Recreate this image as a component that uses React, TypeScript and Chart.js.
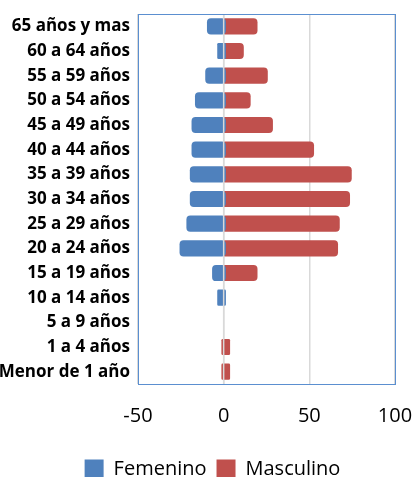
import React, { useEffect, useRef } from "react";
import { Chart, registerables } from "chart.js";

Chart.register(...registerables);

const categories = [
  "65 años y mas",
  "60 a 64 años",
  "55 a 59 años",
  "50 a 54 años",
  "45 a 49 años",
  "40 a 44 años",
  "35 a 39 años",
  "30 a 34 años",
  "25 a 29 años",
  "20 a 24 años",
  "15 a 19 años",
  "10 a 14 años",
  "5 a 9 años",
  "1 a 4 años",
  "Menor de 1 año",
];

const femenino = [-8, -2, -9, -15, -17, -17, -18, -18, -20, -24, -5, -2, 0, 0, 0];
const masculino = [18, 10, 24, 14, 27, 51, 73, 72, 66, 65, 18, 0, 0, 2, 2];

const xTicks = [-50, 0, 50, 100];

const BLUE = "#4F81BD";
const RED = "#C0504D";
const CLEAR = "rgba(0,0,0,0)";

const frame = {
  id: "frame",
  afterLayout(chart: any) {
    const lg = chart.legend;
    if (lg) {
      lg.left += 15;
      lg.right += 15;
    }
  },
  afterDatasetsDraw(chart: any) {
    const { ctx, chartArea, scales } = chart;
    const x0 = scales.x.getPixelForValue(0);
    ctx.save();
    ctx.strokeStyle = "#d9d9d9";
    ctx.lineWidth = 1.5;
    ctx.beginPath();
    ctx.moveTo(x0, chartArea.top);
    ctx.lineTo(x0, chartArea.bottom);
    ctx.stroke();
    ctx.strokeStyle = "#5B8FD0";
    ctx.lineWidth = 1;
    ctx.strokeRect(
      Math.round(chartArea.left) + 0.5,
      Math.round(chartArea.top) + 0.5,
      Math.round(chartArea.right - chartArea.left),
      Math.round(chartArea.bottom - chartArea.top)
    );
    ctx.restore();
  },
};

const toBar = (v: number) => (v === 0 ? null : v);

export default function App() {
  const ref = useRef<HTMLCanvasElement | null>(null);

  useEffect(() => {
    if (!ref.current) return;
    const chart = new Chart(ref.current, {
      type: "bar",
      data: {
        labels: categories,
        datasets: [
          {
            label: "Femenino",
            data: femenino.map(toBar),
            backgroundColor: BLUE,
          },
          {
            label: "Masculino",
            data: masculino.map(toBar),
            backgroundColor: RED,
          },
        ],
      },
      options: {
        indexAxis: "y",
        animation: false,
        responsive: false,
        maintainAspectRatio: false,
        datasets: {
          bar: {
            barPercentage: 0.41,
            categoryPercentage: 1,
            borderRadius: 4,
            borderSkipped: false,
            inflateAmount: 3,
          },
        },
        layout: { padding: { top: 14, right: 18, left: 0, bottom: -12 } },
        scales: {
          x: {
            stacked: true,
            min: -50,
            max: 100,
            afterBuildTicks(scale: any) {
              scale.ticks = xTicks.map((v) => ({ value: v }));
            },
            afterFit(scale: any) {
              scale.height = 65;
            },
            grid: {
              color: "#d9d9d9",
              lineWidth: 1.5,
              drawTicks: true,
              tickLength: 20,
              tickColor: CLEAR,
            },
            border: { display: false },
            ticks: {
              color: "#000",
              padding: 0,
              maxRotation: 0,
              font: { family: "Open Sans", size: 20 },
            },
          },
          y: {
            stacked: true,
            afterFit(scale: any) {
              scale.width = 138;
            },
            grid: {
              display: true,
              drawOnChartArea: false,
              drawTicks: true,
              tickLength: 8,
              tickColor: CLEAR,
              color: CLEAR,
            },
            border: { display: false },
            ticks: {
              color: "#000",
              padding: 0,
              autoSkip: false,
              font: { family: "Open Sans", size: 17, weight: "bold" },
            },
          },
        },
        plugins: {
          legend: {
            position: "bottom",
            labels: {
              color: "#000",
              boxWidth: 19,
              boxHeight: 19,
              padding: 10,
              font: { family: "Open Sans", size: 20 },
            },
          },
          tooltip: { enabled: false },
        },
      } as any,
      plugins: [frame],
    });
    return () => chart.destroy();
  }, []);

  return (
    <div style={{ position: "absolute", left: 0, top: 0, width: 413, height: 477 }}>
      <canvas ref={ref} width={413} height={477} style={{ width: 413, height: 477 }} />
    </div>
  );
}
